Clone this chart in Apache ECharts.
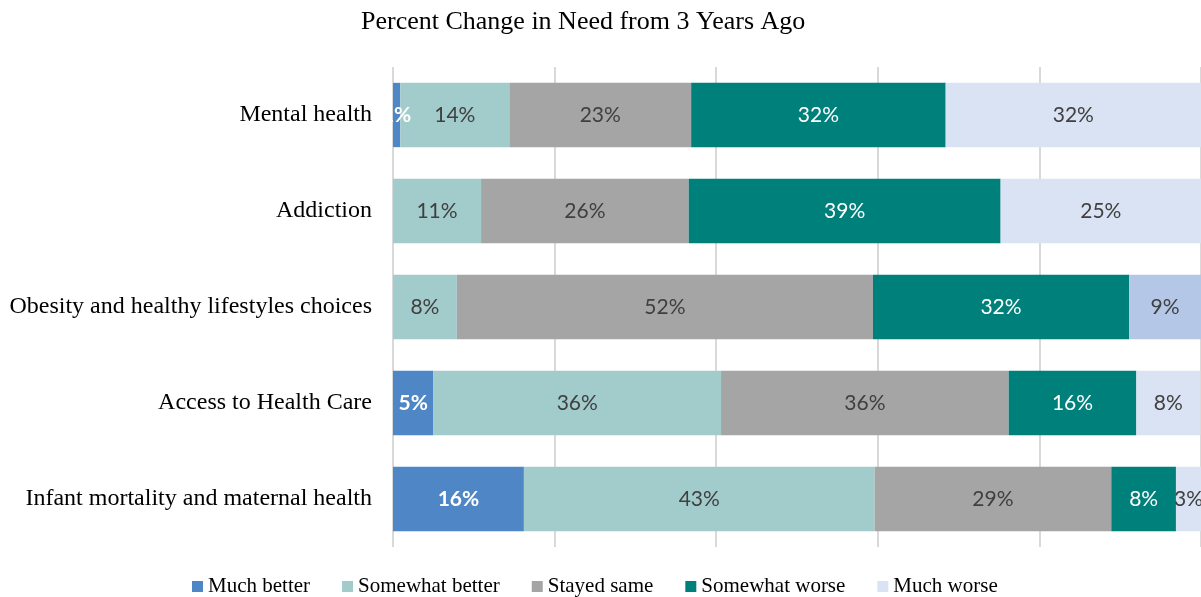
<!DOCTYPE html>
<html>
<head>
<meta charset="utf-8">
<script src="https://cdn.jsdelivr.net/npm/echarts@6/dist/echarts.min.js"></script>
<style>
html,body{margin:0;padding:0;background:#fff;}
#chart{width:1201px;height:597px;}
</style>
</head>
<body>
<div id="chart"></div>
<script>
const categories = ['Mental health', 'Addiction', 'Obesity and healthy lifestyles choices', 'Access to Health Care', 'Infant mortality and maternal health'];
const seriesNames = ['Much better', 'Somewhat better', 'Stayed same', 'Somewhat worse', 'Much worse'];
const muchBetter = [0.9, 0, 0, 5.0, 16.2];
const somewhatBetter = [13.5, 10.9, 7.9, 35.6, 43.4];
const stayedSame = [22.5, 25.7, 51.5, 35.6, 29.3];
const somewhatWorse = [31.5, 38.6, 31.7, 15.8, 8.0];
const muchWorse = [31.6, 24.8, 8.9, 7.9, 3.1];
const xTicks = [0, 20, 40, 60, 80, 100];

const values = [muchBetter, somewhatBetter, stayedSame, somewhatWorse, muchWorse];
const colors = ['#4E86C6', '#A2CBCB', '#A5A5A5', '#00807A', '#DAE3F3'];
const labelColors = ['#FFFFFF', '#404040', '#404040', '#FFFFFF', '#404040'];
const labelWeights = ['bold', 'normal', 'normal', 'normal', 'normal'];

const chart = echarts.init(document.getElementById('chart'), null, {renderer: 'canvas'});

const series = seriesNames.map((name, si) => ({
  name: name,
  type: 'bar',
  stack: 'total',
  barCategoryGap: '33%',
  itemStyle: {color: colors[si]},
  label: {
    show: true,
    position: 'inside',
    fontFamily: 'Lato',
    fontSize: 21,
    fontWeight: labelWeights[si],
    color: labelColors[si],
    formatter: p => (p.value > 0 ? Math.round(p.value) + '%' : '')
  },
  emphasis: {disabled: true},
  data: values[si].map((v, i) => (si === 4 && i === 2) ? {value: v, itemStyle: {color: '#B4C7E7'}} : v)
}));

chart.setOption({
  animation: false,
  backgroundColor: '#fff',
  title: {
    text: 'Percent Change in Need from 3 Years Ago',
    left: 361,
    top: 9,
    padding: 0,
    textStyle: {fontFamily: 'Liberation Serif', fontSize: 26, fontWeight: 'normal', color: '#000'}
  },
  legend: {
    data: seriesNames,
    left: 192,
    top: 576,
    padding: 0,
    icon: 'rect',
    itemWidth: 11,
    itemHeight: 11,
    itemGap: 32,
    textStyle: {fontFamily: 'Liberation Serif', fontSize: 21, color: '#000', lineHeight: 20}
  },
  grid: {left: 393, right: 0, top: 67, bottom: 50, containLabel: false},
  xAxis: {
    type: 'value',
    min: xTicks[0],
    max: xTicks[xTicks.length - 1],
    interval: xTicks[1] - xTicks[0],
    axisLabel: {show: false},
    axisLine: {show: false},
    axisTick: {show: false},
    splitLine: {show: true, lineStyle: {color: '#D9D9D9', width: 2}}
  },
  yAxis: {
    type: 'category',
    data: categories,
    inverse: true,
    axisLine: {show: false},
    axisTick: {show: false},
    axisLabel: {fontFamily: 'Liberation Serif', fontSize: 24, color: '#000', margin: 21, padding: [3, 0, 0, 0]}
  },
  series: series
});
</script>
</body>
</html>
